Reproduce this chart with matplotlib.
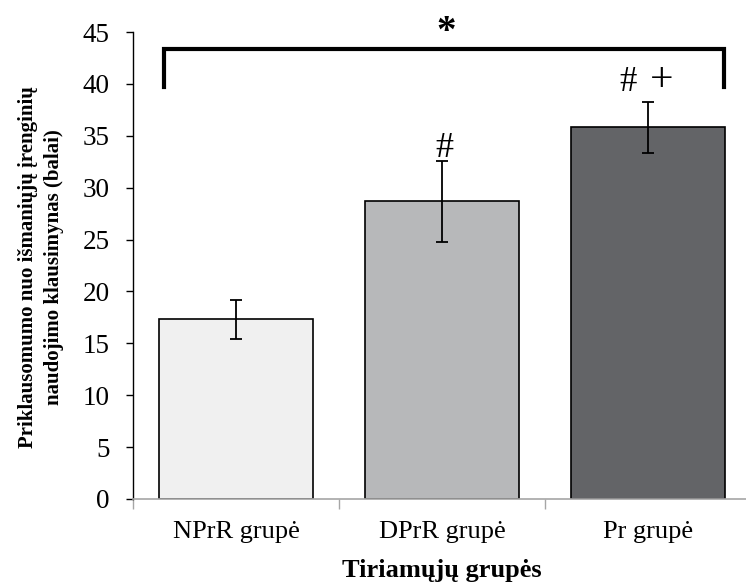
import matplotlib
matplotlib.use("Agg")
import matplotlib.pyplot as plt
import numpy as np

categories = ["NPrR grupė", "DPrR grupė", "Pr grupė"]
means = [17.3, 28.7, 35.8]
errors = [1.9, 3.9, 2.5]
colors = ["#F0F0F0", "#B7B8BA", "#636467"]
y_ticks = [0, 5, 10, 15, 20, 25, 30, 35, 40, 45]

plt.rcParams['font.family'] = ['Liberation Serif', 'DejaVu Serif']

W, H = 746, 583
fig = plt.figure(figsize=(W/100, H/100), dpi=100)
ax = fig.add_axes([133/W, 1-499/H, (751-133)/W, (499-32)/H])

x = np.arange(len(categories))
ax.bar(x, means, width=0.743, color=colors, edgecolor="black", linewidth=1.2, zorder=2)
ax.errorbar(x, means, yerr=errors, fmt="none", ecolor="black", elinewidth=1.3,
            capsize=4.3, capthick=1.3, zorder=3)

# significance markers
ax.text(x[1] + 0.012, means[1] + errors[1] + 0.4, "#", ha="center", va="baseline", fontsize=26)
ax.text(x[2] - 0.095, means[2] + errors[2] + 1.0, "#", ha="center", va="baseline", fontsize=25)
ax.text(x[2] + 0.066, means[2] + errors[2] + 1.0, "+", ha="center", va="baseline", fontsize=30)

# significance bracket
bl = -0.35
br = 2.37
ax.plot([bl, bl, br, br], [39.7, 43.35, 43.35, 39.7], color="black", lw=3.0,
        solid_joinstyle="miter", clip_on=False, zorder=4)
ax.text(1.02, 43.2, "*", ha="center", va="bottom", fontsize=28, fontweight="bold")

ax.set_xlim(-0.5, 2.5)
ax.set_ylim(0, 45)
ax.set_yticks(y_ticks)
ax.tick_params(axis="y", direction="out", length=5, width=1, color="black",
               labelsize=19.5, pad=12)

ax.set_xticks([-0.5, 0.5, 1.5, 2.5])
ax.set_xticklabels([])
ax.tick_params(axis="x", which="major", direction="out", length=7, width=1, color="#A6A6A6")
ax.set_xticks(x, minor=True)
ax.set_xticklabels(categories, minor=True)
ax.tick_params(axis="x", which="minor", length=0, labelsize=19, pad=16)

for s in ["top", "right"]:
    ax.spines[s].set_visible(False)
ax.spines["left"].set_color("black")
ax.spines["left"].set_linewidth(1.0)
ax.spines["bottom"].set_color("#A6A6A6")
ax.spines["bottom"].set_linewidth(1.2)

fig.text(441.5/W, 1-577/H, "Tiriamųjų grupės", ha="center", va="baseline",
         fontsize=19, fontweight="bold")
fig.text(41/W, 1-267/H, "Priklausomumo nuo išmaniųjų įrenginių\nnaudojimo klausimynas (balai)",
         ha="center", va="center", rotation=90, multialignment="center",
         fontsize=15, fontweight="bold", linespacing=1.45)

fig.savefig("out.png", dpi=100)
